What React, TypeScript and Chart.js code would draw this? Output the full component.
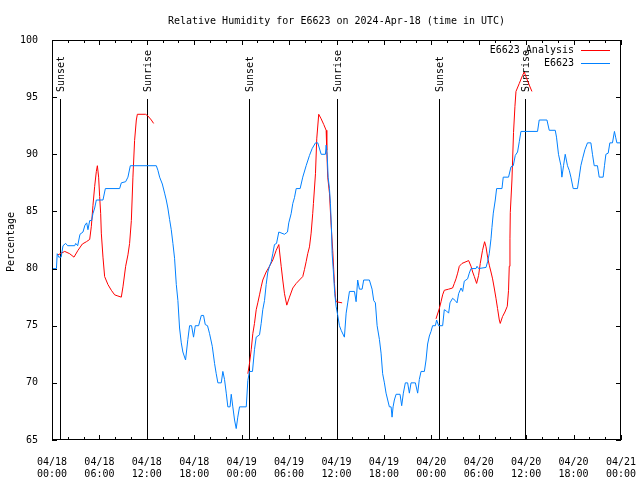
import React, { useEffect, useRef } from "react";
import { Chart, registerables } from "chart.js";

Chart.register(...registerables);

const TITLE = "Relative Humidity for E6623 on 2024-Apr-18 (time in UTC)";
const Y_LABEL = "Percentage";
const SERIES_NAMES = ["E6623 Analysis", "E6623"];
const SERIES_COLORS = ["#ff0000", "#0080ff"];

const X_TICK_DATES = ["04/18", "04/18", "04/18", "04/18", "04/19", "04/19", "04/19", "04/19", "04/20", "04/20", "04/20", "04/20", "04/21"];
const X_TICK_TIMES = ["00:00", "06:00", "12:00", "18:00", "00:00", "06:00", "12:00", "18:00", "00:00", "06:00", "12:00", "18:00", "00:00"];

// hours since 2024-04-18 00:00 UTC
const sunEventHours = [1.06, 12.01, 24.91, 36.03, 48.93, 59.89];
const sunEventLabels = ["Sunset", "Sunrise", "Sunset", "Sunrise", "Sunset", "Sunrise"];

// Observed series (E6623)
const obsHours = [
  0.0, 0.56, 0.66, 0.85, 1.16, 1.39, 1.73, 1.98, 2.87, 3.0, 3.25, 3.54, 3.92, 4.17, 4.39, 4.55, 4.77, 5.02, 5.18, 5.4, 5.61,
  6.45, 6.75, 8.56, 8.77, 9.32, 9.61, 9.91, 13.2, 13.4, 13.62, 13.96, 14.25, 14.46, 14.66, 14.88, 15.09, 15.3, 15.51, 15.73,
  15.93, 16.14, 16.36, 16.56, 16.9, 17.19, 17.41, 17.66, 17.91, 18.13, 18.55, 18.89, 19.18, 19.39, 19.68, 19.94, 20.28,
  20.57, 20.78, 20.99, 21.42, 21.62, 21.83, 22.05, 22.25, 22.53, 22.68, 22.88, 23.1, 23.31, 23.51, 23.73, 24.58, 24.78,
  24.99, 25.37, 25.62, 25.84, 26.26, 26.47, 26.67, 26.89, 27.1, 27.31, 27.52, 27.74, 27.94, 28.15, 28.41, 28.7, 29.42,
  29.8, 29.96, 30.26, 30.47, 30.68, 30.9, 31.4, 31.73, 32.16, 32.58, 32.92, 33.34, 33.63, 34.06, 34.6, 34.69, 34.82,
  34.94, 35.11, 35.23, 35.36, 35.45, 35.61, 35.78, 35.95, 36.16, 36.37, 36.59, 37.0, 37.22, 37.42, 37.64, 38.27, 38.48,
  38.68, 38.9, 39.24, 39.44, 40.16, 40.5, 40.71, 40.92, 41.14, 41.43, 41.64, 41.84, 42.06, 42.27, 42.48, 42.69, 42.91,
  43.03, 43.16, 43.32, 43.54, 44.04, 44.25, 44.46, 44.71, 45.0, 45.22, 45.43, 45.98, 46.27, 46.48, 46.7, 47.12, 47.33,
  47.53, 47.75, 47.96, 48.16, 48.51, 48.67, 48.92, 49.43, 49.64, 49.9, 50.19, 50.36, 50.69, 51.03, 51.25, 51.45, 51.76,
  51.96, 52.17, 52.59, 52.8, 53.02, 53.65, 53.78, 53.98, 54.92, 55.12, 55.33, 55.55, 55.67, 55.84, 56.09, 56.26, 56.94,
  57.1, 57.77, 58.08, 58.37, 58.62, 58.91, 59.13, 59.34, 61.44, 61.65, 62.63, 62.92, 63.68, 63.84, 64.09, 64.4, 64.52,
  64.73, 64.94, 65.23, 65.45, 65.66, 65.95, 66.49, 66.71, 66.92, 67.13, 67.43, 67.76, 68.19, 68.39, 68.61, 69.02, 69.24,
  69.74, 69.91, 70.09, 70.38, 70.59, 70.92, 71.17, 71.32, 71.48, 71.9,
];
const obsValues = [
  80.0, 80.0, 81.3, 81.0, 81.0, 82.0, 82.2, 82.0, 82.0, 82.2, 82.0, 83.0, 83.2, 83.8, 84.0, 83.4, 84.2, 84.2, 84.8, 85.3, 86.0,
  86.0, 87.0, 87.0, 87.5, 87.6, 88.0, 89.0, 89.0, 88.6, 88.0, 87.4, 86.6, 86.0, 85.3, 84.3, 83.4, 82.2, 80.9, 78.6,
  77.2, 74.8, 73.5, 72.7, 72.0, 73.8, 75.0, 75.0, 74.0, 75.0, 75.0, 75.9, 75.9, 75.1, 75.0, 74.3, 73.2,
  71.7, 70.8, 70.0, 70.0, 71.0, 70.3, 69.1, 67.9, 67.9, 69.0, 67.9, 66.75, 66.0, 67.0, 67.9, 67.9, 70.2,
  71.0, 71.0, 72.9, 74.0, 74.2, 75.2, 76.4, 77.2, 78.6, 79.7, 80.2, 80.6, 81.3, 82.1, 82.2, 83.2, 83.0,
  83.2, 84.0, 84.8, 85.7, 86.2, 87.0, 87.0, 88.0, 89.0, 89.9, 90.5, 91.0, 91.0, 90.0, 90.0, 90.8, 90.0,
  88.0, 87.0, 85.7, 83.6, 81.3, 79.7, 77.8, 76.7, 75.9, 75.0, 74.6, 74.0, 76.1, 77.0, 78.0, 78.0, 77.1,
  79.0, 78.2, 78.2, 79.0, 79.0, 78.2, 77.2, 77.0, 75.0, 73.8, 72.6, 70.8, 70.0, 69.1, 68.5, 67.9, 67.9,
  67.0, 67.9, 68.5, 69.0, 69.0, 68.0, 69.1, 70.0, 70.0, 69.1, 70.0, 70.0, 69.1, 70.3, 71.0, 71.0, 72.0,
  73.4, 74.1, 74.5, 75.0, 75.0, 75.5, 75.0, 75.0, 76.4, 76.3, 76.1, 77.0, 77.4, 77.2, 77.0, 77.8, 78.3,
  78.0, 78.9, 79.1, 79.6, 80.0, 80.0, 80.2, 80.0, 80.1, 80.6, 81.3, 82.6, 83.6, 84.85, 86.0, 87.0, 87.0,
  88.0, 88.0, 88.9, 89.0, 89.9, 90.2, 91.1, 92.0, 92.0, 93.0, 93.0, 92.1, 92.1, 91.5, 90.0, 89.0, 88.0,
  89.0, 90.0, 89.0, 88.6, 88.0, 87.0, 87.0, 88.0, 89.0, 89.6, 90.4, 91.0, 91.0, 90.0, 89.0, 89.0, 88.0,
  88.0, 89.0, 90.0, 90.1, 91.0, 91.0, 92.0, 91.5, 91.0, 91.0,
];

// Analysis series (E6623 Analysis); null breaks the line between nights
const analysisHours = [
  0.76, 1.61, 2.24, 2.78, 3.29, 3.84, 4.35, 4.77, 4.98, 5.18, 5.4, 5.61, 5.74, 5.9, 6.03, 6.16, 6.24, 6.45, 6.66, 7.08,
  7.51, 7.93, 8.34, 8.77, 8.98, 9.32, 9.61, 9.82, 10.04, 10.24, 10.45, 10.67, 10.8, 11.84, 12.14, 12.57, 12.86,
  18.0,
  24.78, 24.99, 25.21, 25.41, 25.62, 25.84, 26.04, 26.26, 26.47, 26.67, 27.1, 27.52, 27.94, 28.37, 28.7, 29.0, 29.2,
  29.42, 29.71, 30.05, 30.47, 30.9, 31.31, 31.73, 31.94, 32.16, 32.36, 32.58, 32.79, 32.99, 33.08, 33.34, 33.5, 33.75,
  34.06, 34.39, 34.69, 34.77, 34.89, 35.11, 35.32, 35.52, 35.65, 35.74, 35.86, 35.95, 36.71,
  42.0,
  48.59, 49.01, 49.23, 49.43, 49.64, 50.19, 50.69, 50.91, 51.12, 51.33, 51.54, 51.88, 52.39, 52.72, 53.02, 53.23,
  53.44, 53.73, 53.98, 54.19, 54.48, 54.74, 54.92, 55.12, 55.33, 55.55, 55.75, 55.96, 56.18, 56.38, 56.6, 56.72,
  57.01, 57.31, 57.61, 57.77, 57.86, 57.95, 57.99, 58.2, 58.4, 58.58, 58.71, 59.13, 59.54, 59.76, 60.05, 60.39, 60.73,
];
const analysisValues = [
  81.2, 81.5, 81.3, 81.0, 81.6, 82.15, 82.35, 82.55, 83.7, 85.5, 87.2, 88.5, 89.0, 88.0, 86.3, 84.8, 83.1, 81.0, 79.3, 78.6,
  78.1, 77.7, 77.6, 77.5, 78.4, 80.2, 81.2, 82.2, 84.2, 88.0, 91.2, 93.0, 93.5, 93.5, 93.35, 93.0, 92.7,
  null,
  70.8, 71.7, 72.9, 74.3, 75.2, 76.4, 77.0, 77.7, 78.4, 79.0, 79.7, 80.2, 80.75, 81.6, 82.1, 80.2, 79.0,
  77.8, 76.8, 77.5, 78.3, 78.7, 79.0, 79.3, 79.9, 80.6, 81.3, 81.9, 83.1, 84.8, 85.7, 88.3, 91.35, 93.5,
  93.1, 92.6, 92.1, 90.35, 88.0, 86.6, 83.8, 81.6, 79.9, 78.7, 77.5, 77.1, 77.0,
  null,
  75.6, 76.5, 77.1, 77.7, 78.1, 78.2, 78.3, 78.7, 79.1, 79.6, 80.2, 80.45, 80.6, 80.7, 80.2, 79.7,
  79.3, 78.7, 79.4, 80.45, 81.6, 82.35, 81.9, 81.0, 80.3, 79.7, 79.1, 78.3, 77.4, 76.5, 75.5, 75.2,
  75.8, 76.2, 76.7, 78.1, 80.2, 82.6, 84.9, 87.75, 91.9, 94.2, 95.5, 96.2, 96.9, 97.2, 96.65, 96.06, 95.5,
];

const FONT_FAMILY = "'DejaVu Sans Mono', monospace";
const FONT = `10px ${FONT_FAMILY}`;

const decorPlugin = {
  id: "gnuplotDecor",
  beforeDatasetsDraw(chart: any) {
    const { ctx, chartArea: a, scales } = chart;
    const xs = scales.x;
    ctx.save();
    ctx.strokeStyle = "#000";
    ctx.fillStyle = "#000";
    ctx.lineWidth = 1;
    ctx.font = FONT;
    sunEventHours.forEach((h, i) => {
      const px = Math.round(xs.getPixelForValue(h)) + 0.5;
      ctx.beginPath();
      ctx.moveTo(px, a.top + 59);
      ctx.lineTo(px, a.bottom);
      ctx.stroke();
      ctx.save();
      ctx.translate(px + 1, a.top + 52);
      ctx.rotate(-Math.PI / 2);
      ctx.textAlign = "left";
      ctx.textBaseline = "middle";
      ctx.fillText(sunEventLabels[i], 0, 0);
      ctx.restore();
    });
    ctx.restore();
  },
  afterDatasetsDraw(chart: any) {
    const { ctx, chartArea: a, scales } = chart;
    const xs = scales.x;
    const ys = scales.y;
    ctx.save();
    ctx.strokeStyle = "#000";
    ctx.fillStyle = "#000";
    ctx.lineWidth = 1;
    // border
    ctx.strokeRect(a.left + 0.5, a.top + 0.5, a.right - a.left - 1, a.bottom - a.top - 1);
    // x ticks (major every 6h, minor every 2h), mirrored on top
    ctx.beginPath();
    for (let h = 0; h <= 72; h += 2) {
      const px = Math.round(xs.getPixelForValue(h)) + 0.5;
      const len = h % 6 === 0 ? 5 : 3;
      ctx.moveTo(px, a.bottom);
      ctx.lineTo(px, a.bottom - len);
      ctx.moveTo(px, a.top);
      ctx.lineTo(px, a.top + len);
    }
    // y ticks, mirrored on right
    for (let v = 65; v <= 100; v += 5) {
      const py = Math.round(ys.getPixelForValue(v)) + 0.5;
      ctx.moveTo(a.left, py);
      ctx.lineTo(a.left + 5, py);
      ctx.moveTo(a.right, py);
      ctx.lineTo(a.right - 5, py);
    }
    ctx.stroke();

    ctx.font = FONT;
    // title
    ctx.textAlign = "center";
    ctx.textBaseline = "middle";
    ctx.fillText(TITLE, (a.left + a.right) / 2, 21);
    // y axis title
    ctx.save();
    ctx.translate(11, (a.top + a.bottom) / 2 + 2);
    ctx.rotate(-Math.PI / 2);
    ctx.fillText(Y_LABEL, 0, 0);
    ctx.restore();
    // legend
    ctx.textAlign = "right";
    SERIES_NAMES.forEach((name, i) => {
      const ly = a.top + 10 + i * 13;
      ctx.fillStyle = "#000";
      ctx.fillText(name, a.right - 47, ly);
      ctx.strokeStyle = SERIES_COLORS[i];
      ctx.beginPath();
      ctx.moveTo(a.right - 40, Math.round(ly) + 0.5);
      ctx.lineTo(a.right - 11, Math.round(ly) + 0.5);
      ctx.stroke();
    });
    ctx.restore();
  },
};

export default function App() {
  const canvasRef = useRef<HTMLCanvasElement | null>(null);

  useEffect(() => {
    const canvas = canvasRef.current;
    if (!canvas) return;
    const analysisData = analysisHours.map((h, i) => ({ x: h, y: analysisValues[i] }));
    const obsData = obsHours.map((h, i) => ({ x: h, y: obsValues[i] }));
    const chart = new Chart(canvas, {
      type: "line",
      data: {
        datasets: [
          {
            label: SERIES_NAMES[0],
            data: analysisData as any,
            borderColor: SERIES_COLORS[0],
            backgroundColor: SERIES_COLORS[0],
            borderWidth: 1,
            pointRadius: 0,
            tension: 0,
            spanGaps: false,
            order: 1,
          },
          {
            label: SERIES_NAMES[1],
            data: obsData as any,
            borderColor: SERIES_COLORS[1],
            backgroundColor: SERIES_COLORS[1],
            borderWidth: 1,
            pointRadius: 0,
            tension: 0,
            order: 0,
          },
        ],
      },
      options: {
        responsive: false,
        animation: false,
        devicePixelRatio: 1,
        layout: { padding: { top: 40, right: 19, left: 0, bottom: 0 } },
        plugins: {
          legend: { display: false },
          title: { display: false },
          tooltip: { enabled: false },
        },
        scales: {
          x: {
            type: "linear",
            min: 0,
            max: 72,
            grid: { display: false },
            border: { display: false },
            ticks: {
              stepSize: 6,
              autoSkip: false,
              maxRotation: 0,
              minRotation: 0,
              padding: 8,
              color: "#000",
              font: { family: FONT_FAMILY, size: 10 },
              callback: (value: any) => {
                const i = Math.round(Number(value) / 6);
                return [X_TICK_DATES[i], X_TICK_TIMES[i]];
              },
            },
            afterFit: (s: any) => {
              s.height = 40;
              s.paddingLeft = 0;
              s.paddingRight = 0;
            },
          },
          y: {
            type: "linear",
            min: 65,
            max: 100,
            grid: { display: false },
            border: { display: false },
            ticks: {
              stepSize: 5,
              padding: 6,
              color: "#000",
              font: { family: FONT_FAMILY, size: 10 },
            },
            afterFit: (s: any) => {
              s.width = 52;
              s.paddingTop = 0;
              s.paddingBottom = 0;
            },
          },
        },
      },
      plugins: [decorPlugin],
    });
    return () => chart.destroy();
  }, []);

  return (
    <div style={{ position: "absolute", left: 0, top: 0, width: 640, height: 480, background: "#fff" }}>
      <canvas ref={canvasRef} width={640} height={480} style={{ display: "block" }} />
    </div>
  );
}
